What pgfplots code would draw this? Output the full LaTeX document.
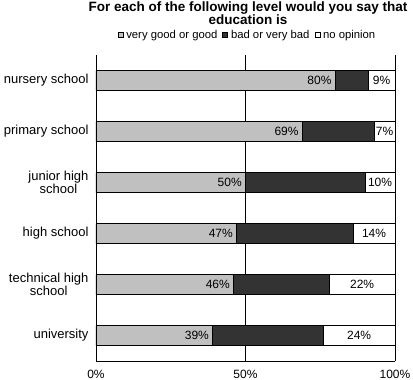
\documentclass[border=0pt]{standalone}
\usepackage{pgfplots}
\pgfplotsset{compat=1.18}
\usepackage{pgfplotstable}
\usepackage{fontspec}
\setmainfont{Liberation Sans}
\definecolor{lgrey}{RGB}{192,192,192}
\definecolor{dgrey}{RGB}{51,51,51}

% good = very good or good, bad = bad or very bad, noop = no opinion
% cum = good + bad, mid = centre of the no-opinion segment
\pgfplotstableread{
idx good bad noop cum total mid
0 80 11 9 91 100 95.5
1 69 24 7 93 100 96.5
2 50 40 10 90 100 95
3 47 39 14 86 100 93
4 46 32 22 78 100 89
5 39 37 24 76 100 88
}\datatable

\begin{document}
\begin{tikzpicture}
\pgfkeys{/pgf/number format/assume math mode=true}
\begin{axis}[
  name=ax,
  scale only axis,
  width=299pt, height=306pt,
  /pgf/number format/assume math mode=true,
  xbar, bar width=20pt, bar shift=0pt,
  xmin=0, xmax=100,
  ymin=-0.5, ymax=5.5,
  y dir=reverse,
  axis x line*=bottom,
  axis y line*=left,
  y axis line style={draw=none},
  x axis line style={line width=0.8pt, -},
  xtick={0,50,100},
  xticklabel={\pgfmathprintnumber{\tick}\%},
  xtick style={draw=none},
  xticklabel style={font=\fontsize{12}{14}\selectfont, inner sep=0.5pt, yshift=-8pt},
  xmajorgrids,
  grid style={black, line width=0.8pt},
  ytick={0,1,2,3,4,5},
  yticklabels={nursery school, primary school, {junior high\\school}, high school, {technical high\\school}, university},
  ytick style={draw=none},
  yticklabel style={font=\fontsize{13}{12.5}\selectfont, align=center, xshift=-4pt},
  major tick length=0pt,
  reverse legend,
  legend columns=3,
  legend style={draw=none, fill=none, at={(0.5,1)}, anchor=center, yshift=20pt, xshift=2pt,
    font=\fontsize{11.3}{12}\selectfont, column sep=1pt, inner sep=0pt,
    /tikz/every even column/.append style={column sep=3pt}},
  legend image code/.code={\draw[#1, line width=0.6pt, draw=black] (0pt,-2.5pt) rectangle (5pt,2.5pt);},
]
\addplot[fill=white, draw=black, line width=0.8pt] table[x=total, y=idx] {\datatable};
\addlegendentry{no opinion}
\addplot[fill=dgrey, draw=black, line width=0.8pt] table[x=cum, y=idx] {\datatable};
\addlegendentry{bad or very bad}
\addplot[fill=lgrey, draw=black, line width=0.8pt,
  nodes near coords={\pgfmathprintnumber{\pgfplotspointmeta}\%},
  point meta=explicit,
  every node near coord/.append style={anchor=east, font=\fontsize{12}{14}\selectfont, text=black}]
  table[x=good, y=idx, meta=good] {\datatable};
\addlegendentry{very good or good}
\addplot[draw=none, fill=none, forget plot,
  nodes near coords={\pgfmathprintnumber{\pgfplotspointmeta}\%},
  point meta=explicit,
  every node near coord/.append style={anchor=center, font=\fontsize{12}{14}\selectfont, text=black}]
  table[x=mid, y=idx, meta=noop] {\datatable};
\end{axis}
\node[font=\bfseries\fontsize{13.5}{12}\selectfont, align=center] at ([yshift=42pt, xshift=2.5pt]ax.north) {For each of the following level would you say that\\education is};
\pgfresetboundingbox
\path[use as bounding box] ([shift={(-96pt,-19pt)}]ax.south west) rectangle ([shift={(18pt,55pt)}]ax.north east);
\end{tikzpicture}
\end{document}
